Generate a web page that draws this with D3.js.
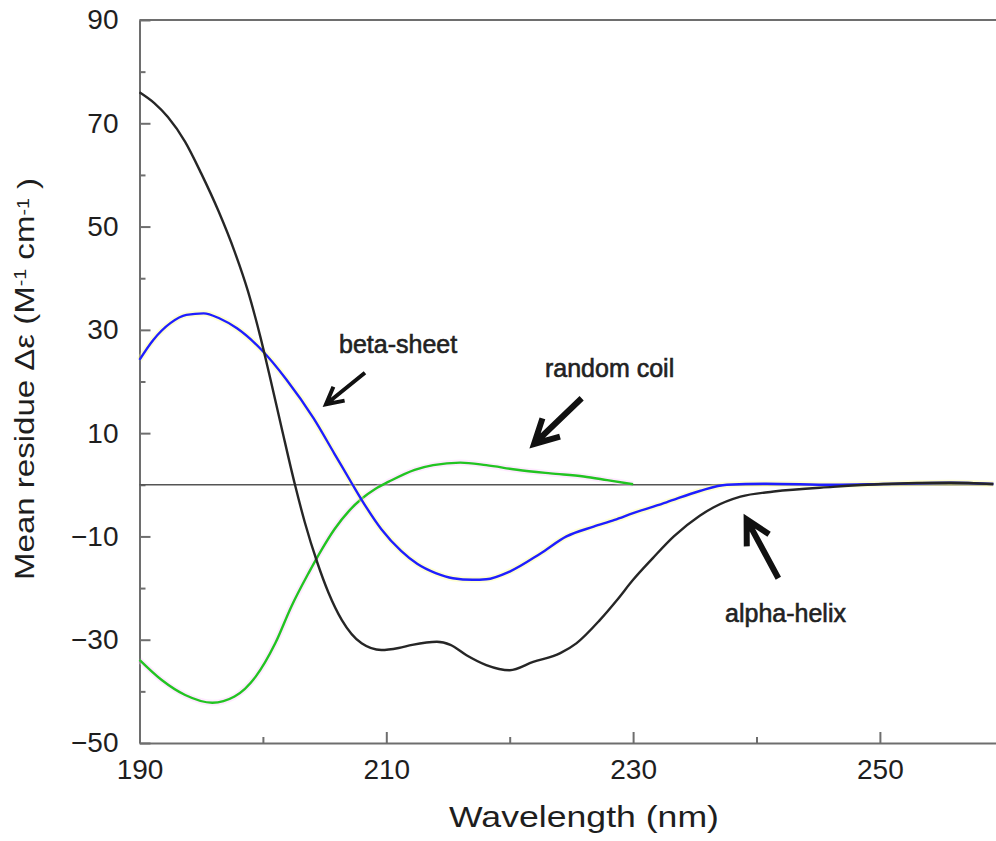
<!DOCTYPE html>
<html lang="en">
<head>
    <meta charset="UTF-8">
    <title>CD spectra of secondary structures</title>
    <script src="https://d3js.org/d3.v7.min.js"></script>
    <style>
        body { margin: 0; background: #fff; }
        svg { display: block; font-family: "Liberation Sans", Arial, sans-serif; }
    </style>
</head>
<body>
    <div id="chart"></div>
    <script>
        // alpha-helix (black)
        const helixNm = [190, 191.2, 192.3, 193.7, 195.0, 196.4, 197.7, 198.8, 199.8, 200.5, 201.5, 202.6, 203.4, 204.4, 205.3, 206.4, 208.0, 209.6, 211.0, 212.1, 214.1, 215.2, 216.5, 218.1, 220.0, 221.9, 224.1, 225.4, 227.3, 228.7, 230.0, 231.6, 233.3, 235.4, 236.5, 238.7, 241.4, 246.2, 250.3, 255.7, 259.2];
        const helixDe = [76.0, 73.9, 71.2, 66.4, 60.3, 53.0, 45.2, 37.4, 28.6, 21.6, 11.2, 0, -7.3, -15.0, -20.8, -26.2, -30.7, -32.0, -31.6, -31.0, -30.4, -31.0, -33.0, -34.9, -35.9, -34.3, -32.6, -30.7, -26.2, -22.3, -18.4, -14.2, -10.0, -6.0, -4.4, -2.3, -1.3, -0.4, 0.15, 0.4, 0.15];

        // beta-sheet (blue)
        const sheetNm = [190, 191.1, 192.5, 193.8, 195.2, 196.5, 197.9, 199.9, 201.9, 204.1, 205.8, 207.2, 208.0, 209.6, 211.2, 212.5, 214.0, 215.4, 217.0, 218.1, 220.0, 222.5, 224.6, 226.8, 228.5, 230.0, 232.7, 235.4, 237.6, 240.8, 246.2, 250.3, 255.7, 259.2];
        const sheetDe = [24.2, 28.0, 31.3, 32.9, 33.2, 32.2, 30.3, 26.1, 20.4, 12.9, 6.0, 0.3, -2.9, -8.6, -12.8, -15.3, -17.1, -18.1, -18.4, -18.3, -16.8, -13.3, -10.0, -8.1, -6.8, -5.5, -3.4, -1.2, 0, 0.2, 0.0, 0.15, 0.4, 0.15];

        // random coil (green)
        const coilNm = [190, 191.8, 193.7, 195.9, 197.7, 199.4, 201.0, 202.3, 203.7, 204.8, 205.8, 207.0, 208.0, 209.1, 210.2, 212.3, 213.8, 216.0, 218.1, 220.6, 223.3, 226.0, 227.9, 230.0];
        const coilDe = [-33.9, -37.8, -40.7, -42.2, -41.0, -37.2, -30.7, -23.6, -17.1, -12.4, -8.6, -5.0, -2.7, -0.8, 0.6, 2.9, 3.8, 4.3, 3.8, 2.9, 2.2, 1.6, 0.9, 0.1];

        const xMajor = [190, 210, 230, 250];
        const xMinor = [200, 220, 240];
        const yMajor = [90, 70, 50, 30, 10, -10, -30, -50];
        const yMinor = [80, 60, 40, 20, 0, -20, -40];

        const width = 996, height = 841;

        const x = d3.scaleLinear().domain([190, 260]).range([139.5, 1003.3]);
        const y = d3.scaleLinear().domain([-50, 90]).range([743, 20]);

        const svg = d3.select("#chart").append("svg")
            .attr("width", width)
            .attr("height", height)
            .attr("viewBox", [0, 0, width, height]);

        const axisColor = "#6e6e6e";

        // top frame line
        svg.append("line")
            .attr("x1", x(190)).attr("x2", width)
            .attr("y1", y(90)).attr("y2", y(90))
            .attr("stroke", axisColor).attr("stroke-width", 2);

        // minor ticks
        svg.append("g")
            .attr("transform", `translate(0,${y(-50)})`)
            .call(d3.axisBottom(x).tickValues(xMinor).tickSize(-6).tickFormat(""))
            .call(g => g.select(".domain").remove())
            .selectAll("line").attr("stroke", axisColor).attr("stroke-width", 2);
        svg.append("g")
            .attr("transform", `translate(${x(190)},0)`)
            .call(d3.axisLeft(y).tickValues(yMinor).tickSize(-6).tickFormat(""))
            .call(g => g.select(".domain").remove())
            .selectAll("line").attr("stroke", axisColor).attr("stroke-width", 2);

        // major axes
        const fmt = d => d < 0 ? "\u2212" + Math.abs(d) : String(d);
        const xAxis = svg.append("g")
            .attr("transform", `translate(0,${y(-50)})`)
            .call(d3.axisBottom(x).tickValues(xMajor).tickSize(-11).tickSizeOuter(0).tickPadding(16).tickFormat(fmt));
        const yAxis = svg.append("g")
            .attr("transform", `translate(${x(190)},0)`)
            .call(d3.axisLeft(y).tickValues(yMajor).tickSize(-11).tickSizeOuter(0).tickPadding(21).tickFormat(fmt));
        [xAxis, yAxis].forEach(g => {
            g.select(".domain").attr("stroke", axisColor).attr("stroke-width", 2);
            g.selectAll(".tick line").attr("stroke", axisColor).attr("stroke-width", 2);
            g.selectAll(".tick text")
                .attr("fill", "#1e1e1e")
                .style("font-size", "28px");
        });

        // zero line
        svg.append("line")
            .attr("x1", x(190)).attr("x2", 993)
            .attr("y1", y(0)).attr("y2", y(0))
            .attr("stroke", "#555").attr("stroke-width", 1.6);

        const line = d3.line()
            .x(d => x(d[0]))
            .y(d => y(d[1]))
            .curve(d3.curveMonotoneX);

        const series = [
            { nm: coilNm, de: coilDe, color: "#22c422", halo: "#ffc4ff" },
            { nm: sheetNm, de: sheetDe, color: "#1f1fff", halo: "#ffff80" },
            { nm: helixNm, de: helixDe, color: "#262626", halo: null }
        ];

        const plot = svg.append("g");
        series.forEach(s => {
            const pts = d3.zip(s.nm, s.de);
            if (s.halo) {
                plot.append("path")
                    .attr("d", line(pts))
                    .attr("fill", "none")
                    .attr("stroke", s.halo)
                    .attr("stroke-opacity", 0.35)
                    .attr("stroke-width", 6);
            }
            plot.append("path")
                .attr("d", line(pts))
                .attr("fill", "none")
                .attr("stroke", s.color)
                .attr("stroke-width", 2.4);
        });

        // annotations (data coordinates)
        const notes = [
            { text: "beta-sheet", tx: 206.17, ty: 25.6, from: [208.27, 21.7], to: [205.11, 15.6], w: 4, head: 19 },
            { text: "random coil", tx: 222.86, ty: 20.9, from: [225.83, 16.75], to: [221.97, 7.9], w: 6, head: 27 },
            { text: "alpha-helix", tx: 237.45, ty: -26.5, from: [241.77, -18.1], to: [239.2, -6.7], w: 6, head: 27 }
        ];

        const ann = svg.append("g");
        notes.forEach(n => {
            ann.append("text")
                .attr("x", x(n.tx)).attr("y", y(n.ty))
                .attr("fill", "#222")
                .attr("stroke", "#222").attr("stroke-width", 0.6)
                .style("font-size", "25px")
                .text(n.text);

            const x1 = x(n.from[0]), y1 = y(n.from[1]);
            const x2 = x(n.to[0]), y2 = y(n.to[1]);
            const ang = Math.atan2(y1 - y2, x1 - x2);
            const half = 28 * Math.PI / 180;
            const a1 = [x2 + n.head * Math.cos(ang - half), y2 + n.head * Math.sin(ang - half)];
            const a2 = [x2 + n.head * Math.cos(ang + half), y2 + n.head * Math.sin(ang + half)];
            ann.append("path")
                .attr("d", `M${x1},${y1}L${x2},${y2}M${a1}L${x2},${y2}L${a2}`)
                .attr("fill", "none")
                .attr("stroke", "#111")
                .attr("stroke-width", n.w)
                .attr("stroke-linejoin", "miter");
        });

        // axis titles
        svg.append("text")
            .attr("x", 449).attr("y", 827)
            .attr("textLength", 270).attr("lengthAdjust", "spacingAndGlyphs")
            .attr("fill", "#1e1e1e")
            .style("font-size", "30px")
            .text("Wavelength (nm)");

        const yt = svg.append("text")
            .attr("transform", "translate(34,580) rotate(-90)")
            .attr("textLength", 402).attr("lengthAdjust", "spacingAndGlyphs")
            .attr("fill", "#1e1e1e")
            .style("font-size", "27px");
        yt.append("tspan").text("Mean residue \u0394\u03b5 (M");
        yt.append("tspan").attr("dy", "-0.5em").style("font-size", "16px").text("-1");
        yt.append("tspan").attr("dy", "0.3em").text(" cm");
        yt.append("tspan").attr("dy", "-0.3em").style("font-size", "16px").text("-1");
        yt.append("tspan").attr("dy", "0.3em").text(" )");
    </script>
</body>
</html>
